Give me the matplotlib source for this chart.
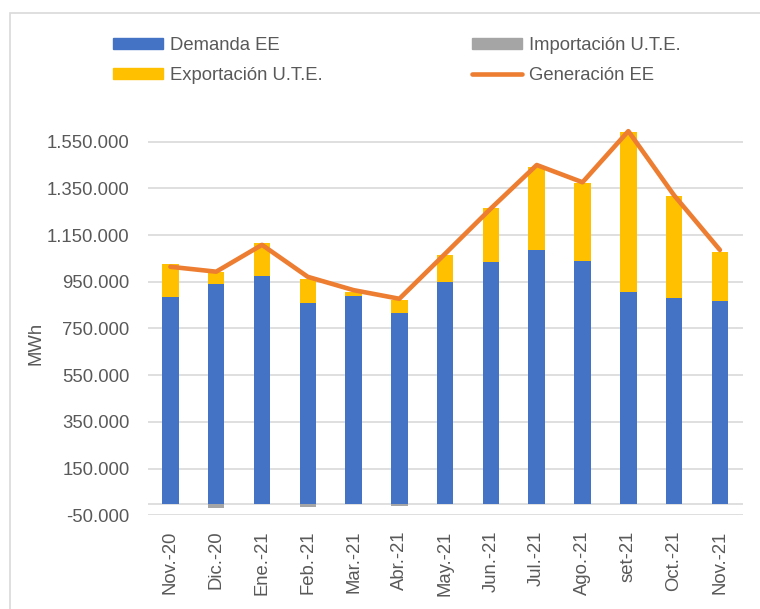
import matplotlib
matplotlib.use("Agg")
import matplotlib.pyplot as plt
from matplotlib.patches import Rectangle
from matplotlib.lines import Line2D
from matplotlib.ticker import FuncFormatter
import numpy as np

months = ["Nov.-20", "Dic.-20", "Ene.-21", "Feb.-21", "Mar.-21", "Abr.-21", "May.-21",
          "Jun.-21", "Jul.-21", "Ago.-21", "set-21", "Oct.-21", "Nov.-21"]
demanda = [883000, 939000, 974000, 860000, 890000, 817000, 950000,
           1033000, 1086000, 1039000, 904000, 881000, 867000]
exportacion = [143000, 51000, 143000, 101000, 17000, 55000, 116000,
               231000, 354000, 332000, 686000, 437000, 211000]
importacion = [0, -19000, 0, -16000, 0, -10000, 0, 0, 0, 0, 0, 0, 0]
generacion = [1014000, 993000, 1108000, 971000, 914000, 877000, 1070000,
              1264000, 1450000, 1376000, 1595000, 1320000, 1086000]
yticks = [-50000, 150000, 350000, 550000, 750000, 950000, 1150000, 1350000, 1550000]

plt.rcParams['font.family'] = ['Liberation Sans', 'DejaVu Sans']
FS = 13.3
TXT = '#595959'
GRID = '#d9d9d9'

W, H = 760, 609
fig = plt.figure(figsize=(W / 100, H / 100), dpi=100)

# outer chart border
fig.patches.append(Rectangle((10 / W, -0.05), 1.2, 1 - 13 / H + 0.05,
                             transform=fig.transFigure, fill=False,
                             edgecolor=GRID, linewidth=1.2))

ax = fig.add_axes([147.5 / W, 1 - 515.2 / H, (742.8 - 147.5) / W, (515.2 - 118.3) / H])
x = np.arange(len(months))
bw = 0.36
ax.bar(x, demanda, width=bw, color='#4472c4', zorder=3, label='Demanda EE')
ax.bar(x, exportacion, width=bw, bottom=demanda, color='#ffc000', zorder=3,
       label='Exportación U.T.E.')
ax.bar(x, importacion, width=bw, color='#a5a5a5', zorder=3, label='Importación U.T.E.')
ax.plot(x, generacion, color='#ed7d31', lw=3.3, solid_capstyle='round',
        solid_joinstyle='round', zorder=4, label='Generación EE')

ax.set_xlim(-0.5, len(months) - 0.5)
ax.set_ylim(-50000, 1650000)
ax.set_yticks(yticks)
ax.yaxis.set_major_formatter(FuncFormatter(lambda v, p: f"{int(v):,}".replace(",", ".")))
ax.set_xticks(x)
ax.set_xticklabels(months, rotation=90)
for s in ax.spines.values():
    s.set_visible(False)
ax.grid(axis='y', color=GRID, lw=1.2, zorder=0)
ax.axhline(0, color=GRID, lw=1.2, zorder=1)
ax.tick_params(axis='both', length=0, labelsize=FS, labelcolor=TXT)
ax.tick_params(axis='y', pad=13)
ax.tick_params(axis='x', pad=11)

fig.text(36 / W, 1 - 343 / H, 'MWh', rotation=90, ha='center', va='center',
         fontsize=FS, color=TXT)

h = [Rectangle((0, 0), 1, 1, color='#4472c4'),
     Rectangle((0, 0), 1, 1, color='#ffc000'),
     Rectangle((0, 0), 1, 1, color='#a5a5a5'),
     Line2D([0], [0], color='#ed7d31', lw=3.3, solid_capstyle='round')]
labels = ['Demanda EE', 'Exportación U.T.E.', 'Importación U.T.E.', 'Generación EE']
leg = fig.legend(h, labels, ncol=2, loc='upper left',
                 bbox_to_anchor=(113 / W, 1 - 37 / H), frameon=False,
                 fontsize=FS, handlelength=2.7, handleheight=0.55,
                 handletextpad=0.38, columnspacing=8.1, labelspacing=0.7,
                 borderpad=0, borderaxespad=0)
for t in leg.get_texts():
    t.set_color(TXT)

fig.savefig('out.png', dpi=100)
